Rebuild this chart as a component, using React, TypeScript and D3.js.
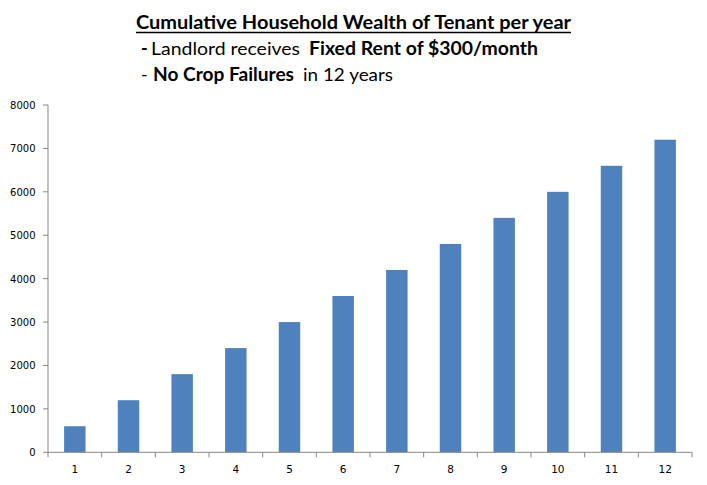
import React from "react";
import * as d3 from "d3";

const years = ["1", "2", "3", "4", "5", "6", "7", "8", "9", "10", "11", "12"];
const wealth = [600, 1200, 1800, 2400, 3000, 3600, 4200, 4800, 5400, 6000, 6600, 7200];
const yTicks = [0, 1000, 2000, 3000, 4000, 5000, 6000, 7000, 8000];

const W = 707, H = 485;
const left = 48, right = 692, top = 105, bottom = 452.3;
const font = "Lato, 'Open Sans', sans-serif";
const tickFont = "'DejaVu Sans', Verdana, sans-serif";

export default function App() {
  const x = d3.scaleBand().domain(years).range([left, right]).paddingInner(0.6).paddingOuter(0.3);
  const xOuter = d3.scaleBand().domain(years).range([left, right]);
  const y = d3.scaleLinear().domain([0, 8000]).range([bottom, top]);
  const axisColor = "#868686";
  return (
    <svg width={W} height={H} style={{ position: "absolute", left: 0, top: 0, background: "#fff" }}>
      <rect width={W} height={H} fill="#fff" />
      {/* Title */}
      <text x={136} y={29} fontFamily={font} fontWeight="bold" fontSize={19} fill="#000" textLength={435} lengthAdjust="spacingAndGlyphs">Cumulative Household Wealth of Tenant per year</text>
      <line x1={136} x2={571} y1={32.5} y2={32.5} stroke="#000" strokeWidth={1.3} />
      <text x={141} y={55} fontFamily={font} fontWeight="bold" fontSize={18} fill="#000">-</text>
      <text x={151} y={55} fontFamily={font} fontSize={18} fill="#000" textLength={149} lengthAdjust="spacingAndGlyphs">Landlord receives</text>
      <text x={309} y={55} fontFamily={font} fontWeight="bold" fontSize={18} fill="#000" textLength={229} lengthAdjust="spacingAndGlyphs">Fixed Rent of $300/month</text>
      <text x={141} y={81} fontFamily={font} fontSize={18} fill="#000">-</text>
      <text x={153} y={81} fontFamily={font} fontWeight="bold" fontSize={18} fill="#000" textLength={141} lengthAdjust="spacingAndGlyphs">No Crop Failures</text>
      <text x={303} y={81} fontFamily={font} fontSize={18} fill="#000" textLength={90} lengthAdjust="spacingAndGlyphs">in 12 years</text>

      {/* Bars */}
      {wealth.map((v, i) => (
        <rect key={i} x={x(years[i])} y={y(v)} width={x.bandwidth()} height={y(0) - y(v)} fill="#4F81BD" />
      ))}

      {/* Y axis */}
      <line x1={left} x2={left} y1={top} y2={bottom} stroke={axisColor} strokeWidth={1} />
      {yTicks.map((t) => (
        <g key={t}>
          <line x1={left - 5} x2={left} y1={y(t)} y2={y(t)} stroke={axisColor} />
          <text x={35.5} y={y(t) + 4} textAnchor="end" fontFamily={tickFont} fontSize={10} fill="#000">{t}</text>
        </g>
      ))}

      {/* X axis */}
      <line x1={left} x2={right} y1={bottom} y2={bottom} stroke={axisColor} strokeWidth={1} />
      {years.map((c) => (
        <line key={"t" + c} x1={(xOuter(c) as number) + xOuter.bandwidth()} x2={(xOuter(c) as number) + xOuter.bandwidth()} y1={bottom} y2={bottom + 5} stroke={axisColor} />
      ))}
      <line x1={left} x2={left} y1={bottom} y2={bottom + 5} stroke={axisColor} />
      {years.map((c) => (
        <text key={"l" + c} x={(xOuter(c) as number) + xOuter.bandwidth() / 2} y={473} textAnchor="middle" fontFamily={tickFont} fontSize={10.5} fill="#000">{c}</text>
      ))}
    </svg>
  );
}
